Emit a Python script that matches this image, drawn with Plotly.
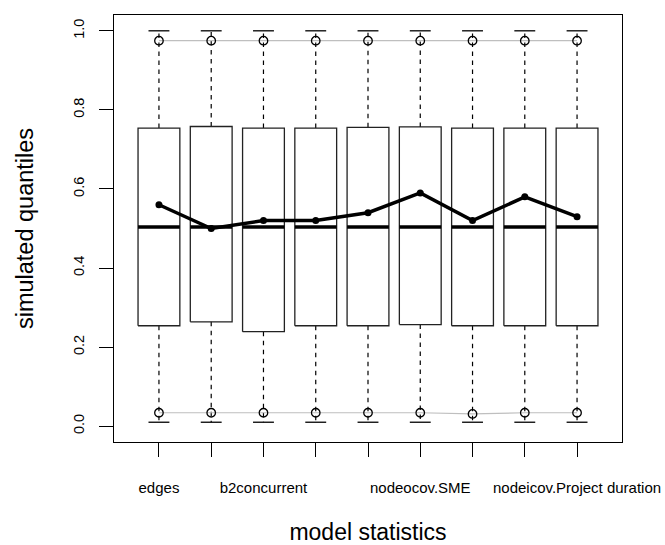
import plotly.graph_objects as go

# Goodness-of-fit summary for nine model statistics
stat_labels = ["edges", "", "b2concurrent", "", "", "nodeocov.SME", "", "", "nodeicov.Project duration"]
stat_pos = [1, 2, 3, 4, 5, 6, 7, 8, 9]

sim_min = [0.01, 0.01, 0.01, 0.01, 0.01, 0.01, 0.01, 0.01, 0.01]
sim_q1 = [0.254, 0.264, 0.239, 0.254, 0.254, 0.257, 0.254, 0.254, 0.254]
sim_median = [0.504, 0.504, 0.504, 0.504, 0.504, 0.504, 0.504, 0.504, 0.504]
sim_q3 = [0.754, 0.758, 0.754, 0.754, 0.756, 0.757, 0.754, 0.754, 0.754]
sim_max = [1.0, 1.0, 1.0, 1.0, 1.0, 1.0, 1.0, 1.0, 1.0]

band_low = [0.034, 0.034, 0.034, 0.034, 0.034, 0.034, 0.031, 0.034, 0.034]
band_high = [0.975, 0.975, 0.975, 0.975, 0.975, 0.975, 0.975, 0.975, 0.975]

observed = [0.56, 0.50, 0.52, 0.52, 0.54, 0.59, 0.52, 0.58, 0.53]

HALF_BOX = 0.4
HALF_CAP = 0.2
FONT = "Liberation Sans, Arial, Helvetica, sans-serif"

box_x, box_y = [], []
med_x, med_y = [], []
wh_x, wh_y = [], []
cap_x, cap_y = [], []
for x, lo, q1, md, q3, hi in zip(stat_pos, sim_min, sim_q1, sim_median, sim_q3, sim_max):
    box_x += [x - HALF_BOX, x + HALF_BOX, x + HALF_BOX, x - HALF_BOX, x - HALF_BOX, None]
    box_y += [q1, q1, q3, q3, q1, None]
    med_x += [x - HALF_BOX, x + HALF_BOX, None]
    med_y += [md, md, None]
    wh_x += [x, x, None, x, x, None]
    wh_y += [q3, hi, None, q1, lo, None]
    cap_x += [x - HALF_CAP, x + HALF_CAP, None, x - HALF_CAP, x + HALF_CAP, None]
    cap_y += [hi, hi, None, lo, lo, None]

fig = go.Figure()

# dashed whiskers and solid staples
fig.add_trace(go.Scatter(x=wh_x, y=wh_y, mode="lines",
                         line=dict(color="black", width=1.2, dash="4.5px,4.5px"),
                         hoverinfo="skip"))
fig.add_trace(go.Scatter(x=cap_x, y=cap_y, mode="lines",
                         line=dict(color="black", width=1.3), hoverinfo="skip"))
# boxes and medians
fig.add_trace(go.Scatter(x=box_x, y=box_y, mode="lines",
                         line=dict(color="#222222", width=1.3), hoverinfo="skip"))
fig.add_trace(go.Scatter(x=med_x, y=med_y, mode="lines",
                         line=dict(color="black", width=3.5), hoverinfo="skip"))

# 2.5% / 97.5% bands
for band in (band_low, band_high):
    fig.add_trace(go.Scatter(x=stat_pos, y=band, mode="lines+markers",
                             line=dict(color="#bfbfbf", width=1.2),
                             marker=dict(symbol="circle-open", size=8.5, color="black",
                                         line=dict(width=1.3, color="black"))))

# observed values
fig.add_trace(go.Scatter(x=stat_pos, y=observed, mode="lines+markers",
                         line=dict(color="black", width=3.5),
                         marker=dict(symbol="circle", size=7, color="black")))

fig.update_layout(
    width=665, height=545,
    margin=dict(l=114, r=43, t=15, b=103),
    paper_bgcolor="white", plot_bgcolor="white",
    showlegend=False,
    font=dict(family=FONT, color="black"),
)
fig.update_xaxes(
    range=[0.14, 9.86], tickmode="array", tickvals=stat_pos, ticktext=stat_labels,
    ticks="outside", ticklen=14, tickwidth=1, tickcolor="black",
    showline=True, linecolor="black", linewidth=1.3, mirror=True,
    showgrid=False, zeroline=False, tickfont=dict(size=15), ticklabelstandoff=18,
    title=dict(text="model statistics", font=dict(size=23), standoff=41),
    automargin=False,
)
fig.update_yaxes(
    range=[-0.04, 1.04], tickmode="array", tickvals=[0, 0.2, 0.4, 0.6, 0.8, 1.0],
    ticktext=["0.0", "0.2", "0.4", "0.6", "0.8", "1.0"], tickangle=-90,
    ticks="outside", ticklen=14, tickwidth=1, tickcolor="black",
    showline=True, linecolor="black", linewidth=1.3, mirror=True,
    showgrid=False, zeroline=False, tickfont=dict(size=14.5), ticklabelstandoff=9,
    title=dict(text="simulated quantiles", font=dict(size=23.5), standoff=30),
    automargin=False,
)

fig.write_html("out.html")
